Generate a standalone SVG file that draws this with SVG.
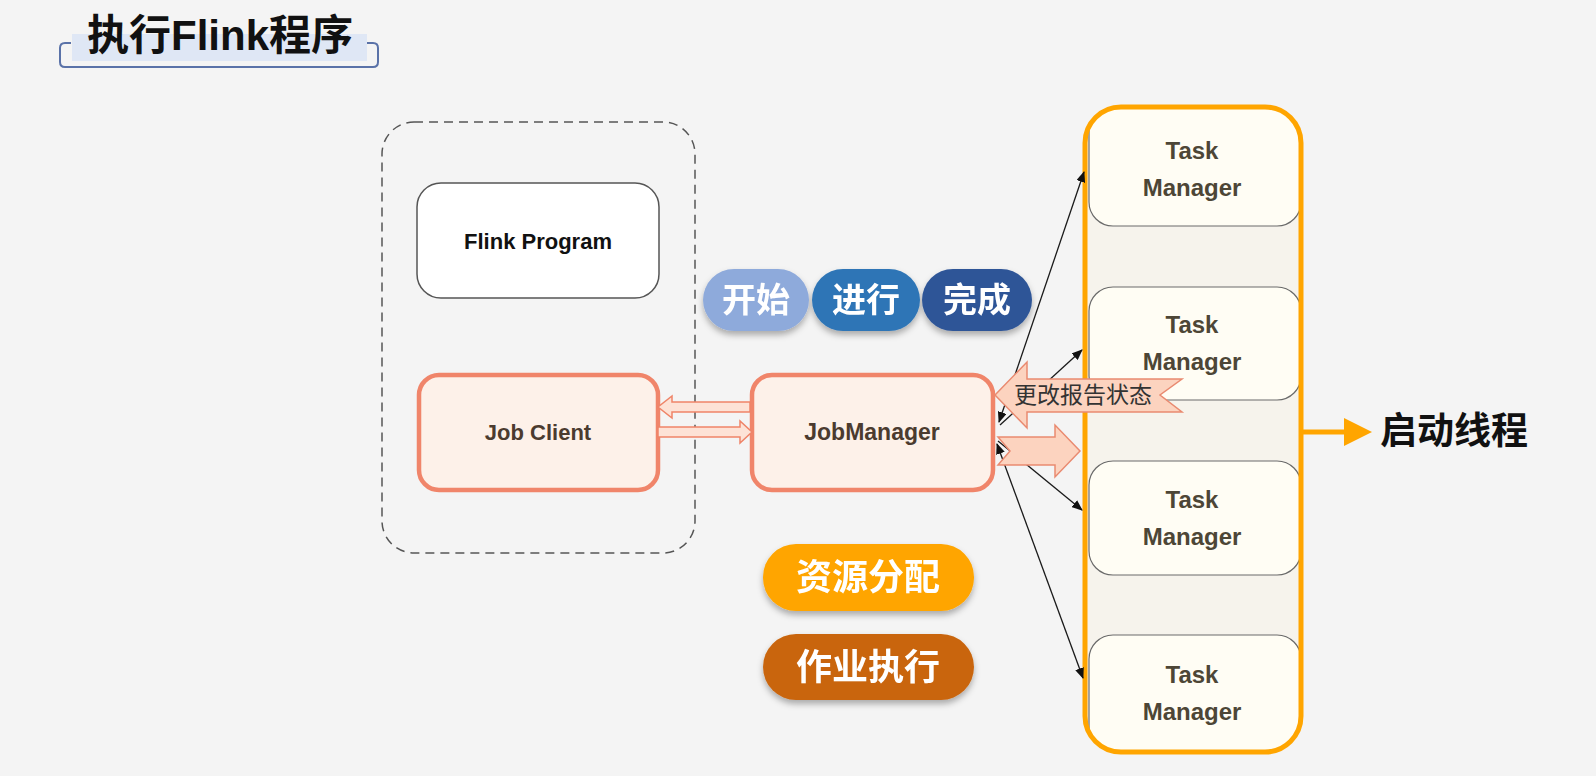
<svg xmlns="http://www.w3.org/2000/svg" width="1596" height="776" viewBox="0 0 1596 776">
<defs>
<style>
.t{font-family:"Liberation Sans","Noto Sans CJK SC",sans-serif}
.cjk{font-family:"Noto Sans CJK SC","Liberation Sans",sans-serif;font-weight:bold;fill:#fff}
.tm{fill:#fffdf4;stroke:#6a6a6a;stroke-width:1.2}
.tmt{font-family:"Liberation Sans",sans-serif;font-weight:bold;font-size:24px;fill:#4d4636;text-anchor:middle}
.sal{fill:#fdf1e9;stroke:#f0856a;stroke-width:4.5}
.bigarr{fill:#fcd3bf;stroke:#e98a70;stroke-width:1.5}
.thin{fill:#fde2d6;stroke:#ef8468;stroke-width:1.5}
.con{stroke:#1a1a1a;stroke-width:1.3;fill:none}
</style>
<marker id="ah" markerUnits="userSpaceOnUse" markerWidth="11" markerHeight="9" refX="10" refY="4.5" orient="auto-start-reverse">
<path d="M0,0 L11,4.5 L0,9 z" fill="#111"/>
</marker>
<filter id="sh" x="-20%" y="-20%" width="140%" height="160%">
<feDropShadow dx="0" dy="4" stdDeviation="3" flood-color="#000" flood-opacity="0.3"/>
</filter>
<clipPath id="tmclip">
<rect x="1085" y="107" width="216" height="645" rx="36"/>
</clipPath>
</defs>
<rect width="1596" height="776" fill="#f4f4f4"/>

<g id="title">
<rect x="72" y="34" width="295" height="27" fill="#dfe7f5"/>
<path d="M71,43 H65 Q60,43 60,48 V62 Q60,67 65,67 H373 Q378,67 378,62 V48 Q378,43 373,43 H367" fill="none" stroke="#5a72a8" stroke-width="2"/>
<text class="t" x="87" y="50" font-size="42" font-weight="bold" fill="#111">执行Flink程序</text>
</g>

<g id="client-container">
<rect x="382" y="122" width="313" height="431" rx="32" fill="none" stroke="#555" stroke-width="1.5" stroke-dasharray="9,6"/>
</g>

<g id="flink-program">
<rect x="417" y="183" width="242" height="115" rx="24" fill="#fff" stroke="#555" stroke-width="1.5"/>
<text class="t" x="538" y="249" font-size="22" font-weight="bold" fill="#111" text-anchor="middle">Flink Program</text>
</g>

<g id="job-client">
<rect class="sal" x="419" y="375" width="239" height="115" rx="20"/>
<text class="t" x="538" y="440" font-size="22" font-weight="bold" fill="#4b3b2f" text-anchor="middle">Job Client</text>
</g>

<g id="job-manager">
<rect class="sal" x="752" y="375" width="241" height="115" rx="20"/>
<text class="t" x="872" y="440" font-size="23" font-weight="bold" fill="#4b3b2f" text-anchor="middle">JobManager</text>
</g>

<g id="badges" filter="url(#sh)">
<g id="badge-start"><rect x="703" y="269" width="106" height="62" rx="31" fill="#8eaadb"/><text class="cjk" x="756" y="312" font-size="34" text-anchor="middle">开始</text></g>
<g id="badge-running"><rect x="812" y="269" width="108" height="62" rx="31" fill="#2e75b6"/><text class="cjk" x="866" y="312" font-size="34" text-anchor="middle">进行</text></g>
<g id="badge-done"><rect x="922" y="269" width="110" height="62" rx="31" fill="#2f5597"/><text class="cjk" x="977" y="312" font-size="34" text-anchor="middle">完成</text></g>
<g id="badge-resource"><rect x="763" y="544" width="211" height="67" rx="33" fill="#ffa502"/><text class="cjk" x="868" y="590" font-size="36" text-anchor="middle">资源分配</text></g>
<g id="badge-exec"><rect x="763" y="634" width="211" height="66" rx="33" fill="#c9650d"/><text class="cjk" x="868" y="680" font-size="36" text-anchor="middle">作业执行</text></g>
</g>

<g id="tm-container">
<rect x="1085" y="107" width="216" height="645" rx="36" fill="#f6f3ec"/>
</g>
<g clip-path="url(#tmclip)">
<g id="tm1"><rect class="tm" x="1089" y="80" width="212" height="146" rx="24"/><text class="tmt" x="1192" y="159">Task</text><text class="tmt" x="1192" y="196">Manager</text></g>
<g id="tm2"><rect class="tm" x="1089" y="287" width="212" height="113" rx="24"/><text class="tmt" x="1192" y="333">Task</text><text class="tmt" x="1192" y="370">Manager</text></g>
<g id="tm3"><rect class="tm" x="1089" y="461" width="212" height="114" rx="24"/><text class="tmt" x="1192" y="508">Task</text><text class="tmt" x="1192" y="545">Manager</text></g>
<g id="tm4"><rect class="tm" x="1089" y="635" width="212" height="140" rx="24"/><text class="tmt" x="1192" y="683">Task</text><text class="tmt" x="1192" y="720">Manager</text></g>
</g>
<rect x="1085" y="107" width="216" height="645" rx="36" fill="none" stroke="#ffa500" stroke-width="5"/>

<g id="connectors">
<line class="con" x1="999" y1="422" x2="1084" y2="172" marker-start="url(#ah)" marker-end="url(#ah)"/>
<line class="con" x1="1000" y1="425" x2="1082" y2="350" marker-end="url(#ah)"/>
<line class="con" x1="998" y1="441" x2="1082" y2="510" marker-end="url(#ah)"/>
<line class="con" x1="997" y1="444" x2="1083" y2="678" marker-start="url(#ah)" marker-end="url(#ah)"/>
<path class="thin" d="M750,402 H672 V396 L658,407 L672,418 V412 H750 Z"/>
<path class="thin" d="M658,427 H740 V421 L752,432 L740,443 V437 H658 Z"/>
<path class="bigarr" d="M998,437 H1055 V425 L1080,451 L1055,477 V465 H998 L1010,451 Z"/>
<path class="bigarr" d="M995,395 L1027,362 V379 H1182 L1160,395 L1182,412 H1027 V428 Z"/>
<text x="1083" y="403" font-size="23" fill="#333" text-anchor="middle" font-family="Noto Sans CJK SC, sans-serif">更改报告状态</text>
<line x1="1301" y1="432" x2="1348" y2="432" stroke="#ffa500" stroke-width="5"/>
<path d="M1344,418 L1372,432 L1344,446 Z" fill="#ffa500"/>
</g>

<g id="start-threads">
<text class="t" x="1380" y="444" font-size="37" font-weight="bold" fill="#111">启动线程</text>
</g>
</svg>
